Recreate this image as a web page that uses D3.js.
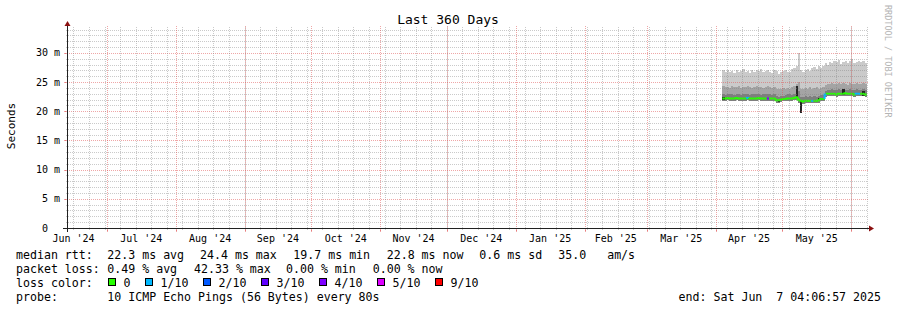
<!DOCTYPE html>
<html>
<head>
<meta charset="utf-8">
<script src="https://cdn.jsdelivr.net/npm/d3@7"></script>
<style>
  body { margin: 0; background: #fff; }
  svg text { font-family: "DejaVu Sans Mono", monospace; fill: #000; white-space: pre; }
</style>
</head>
<body>
<svg id="chart" width="897" height="310"></svg>
<script>
// time window of the graph (360 days)
const rangeStart = new Date(2024, 5, 13, 2);
const rangeEnd = new Date(2025, 5, 8, 2);

// daily samples, first one on Apr 4 2025 (values in ms)
const dataStart = new Date(2025, 3, 4);
const median = [
  22.2, 22.2, 22.3, 22.2, 22.2, 22.2, 22.3, 22.2, 22.2, 22.2,
  22.2, 22.3, 22.2, 22.2, 22.2, 22.2, 22.3, 22.2, 22.2, 22.2,
  22.2, 22.2, 22.2, 22.2, 21.9, 21.9, 22.0, 22.1, 22.1, 22.2,
  22.2, 22.2, 22.3, 22.4, 22.0, 21.8, 21.7, 21.8, 21.8, 21.8,
  21.8, 21.8, 21.8, 21.9, 22.1, 22.1, 22.9, 23.0, 23.0, 23.0,
  23.0, 22.9, 23.0, 23.0, 23.0, 23.1, 23.0, 23.0, 23.0, 22.9,
  23.0, 23.0, 23.0, 23.0, 22.9
];
const smokeTop = [
  27.1, 26.8, 27.0, 26.7, 26.9, 26.6, 27.0, 26.8, 26.9, 27.2,
  26.7, 26.9, 26.6, 27.0, 26.8, 27.1, 26.9, 27.3, 26.7, 26.9,
  27.0, 26.8, 26.6, 27.1, 26.9, 26.4, 26.7, 26.9, 27.0, 26.8,
  26.7, 27.2, 27.5, 27.8, 30.0, 27.0, 26.8, 27.1, 27.3, 26.9,
  27.4, 27.6, 27.2, 27.7, 27.5, 27.8, 28.3, 28.0, 28.5, 28.2,
  28.6, 28.4, 28.8, 28.1, 28.5, 28.7, 28.3, 28.6, 28.9, 28.2,
  28.5, 28.7, 28.4, 28.6, 28.3
];
const smokeMid = [
  24.3, 24.1, 24.2, 24.0, 24.3, 24.1, 24.2, 24.4, 24.0, 24.2,
  24.1, 24.3, 24.2, 24.0, 24.1, 24.3, 24.2, 24.1, 24.0, 24.2,
  24.3, 24.1, 24.0, 24.2, 23.9, 23.8, 23.9, 24.0, 23.9, 24.0,
  23.8, 24.1, 24.3, 24.6, 25.0, 23.8, 23.9, 24.0, 23.8, 24.1,
  23.9, 24.0, 24.1, 23.9, 24.0, 24.2, 24.5, 24.7, 24.6, 24.8,
  24.6, 24.7, 24.9, 24.6, 24.8, 24.7, 24.5, 24.8, 24.7, 24.6,
  24.9, 24.7, 24.6, 24.8, 24.7
];
const smokeInner = [
  22.9, 22.8, 23.0, 22.9, 22.9, 22.8, 23.0, 22.9, 22.8, 22.9,
  22.9, 23.0, 22.8, 22.9, 22.9, 23.0, 22.9, 22.8, 22.9, 22.9,
  23.0, 22.9, 22.8, 22.9, 22.6, 22.5, 22.6, 22.7, 22.8, 22.9,
  22.9, 22.8, 23.0, 23.2, 23.5, 22.5, 22.4, 22.6, 22.5, 22.6,
  22.5, 22.6, 22.5, 22.6, 22.8, 22.8, 23.5, 23.7, 23.6, 23.8,
  23.7, 23.6, 23.8, 23.7, 23.9, 23.7, 23.6, 23.8, 23.7, 23.6,
  23.8, 23.7, 23.6, 23.8, 23.7
];
const smokeBottom = [
  21.8, 21.8, 21.9, 21.8, 21.8, 21.8, 21.9, 21.8, 21.8, 21.8,
  21.8, 21.9, 21.8, 21.8, 21.8, 21.8, 21.9, 21.8, 21.8, 21.8,
  21.8, 21.8, 21.8, 21.8, 21.5, 21.4, 21.6, 21.7, 21.7, 21.8,
  21.8, 21.8, 21.9, 21.9, 21.5, 21.3, 21.3, 21.4, 21.4, 21.4,
  21.4, 21.4, 21.4, 21.5, 21.7, 21.7, 22.4, 22.6, 22.6, 22.6,
  22.6, 22.5, 22.6, 22.6, 22.6, 22.7, 22.6, 22.6, 22.6, 22.5,
  22.6, 22.6, 22.6, 22.6, 22.5
];

// darkest smoke, only visible on a few days
const darkDays = [0, 25, 33, 35, 43, 54, 63];
const darkLow = [22.0, 21.6, 22.3, 19.7, 21.9, 22.8, 22.6];
const darkHigh = [22.4, 22.0, 24.4, 22.0, 22.3, 23.9, 23.4];

// days with packet loss (pings lost out of 10)
const lossDays = [11, 20, 40, 46, 60, 61];
const lossLevel = [1, 4, 1, 1, 1, 1];

const lossLabels = ["0", "1/10", "2/10", "3/10", "4/10", "5/10", "9/10"];
const lossColors = ["#26ff00", "#00b8ff", "#0059ff", "#5e00ff", "#7e00ff", "#dd00ff", "#ff0000"];

const yTicks = [0, 5, 10, 15, 20, 25, 30];

const svg = d3.select("#chart");
const x = d3.scaleTime().domain([rangeStart, rangeEnd]).range([67, 867]);
const y = d3.scaleLinear().domain([0, 34.2857]).range([228, 28]);
const px = (v) => Math.round(v) + 0.5;

const days = median.map((_, i) => d3.timeDay.offset(dataStart, i));
const dayEnd = (i) => d3.timeDay.offset(dataStart, i + 1);

// smoke bands
const bands = [
  { top: smokeTop, color: "#cacaca" },
  { top: smokeMid, color: "#a4a4a4" },
  { top: smokeInner, color: "#7e7e7e" },
];
const data = svg.append("g");
bands.forEach((b) => {
  data.append("g")
    .selectAll("rect")
    .data(days)
    .enter()
    .append("rect")
    .attr("shape-rendering", "crispEdges")
    .attr("x", (d) => x(d))
    .attr("width", (d, i) => x(dayEnd(i)) - x(d))
    .attr("y", (d, i) => y(b.top[i]))
    .attr("height", (d, i) => y(smokeBottom[i]) - y(b.top[i]))
    .attr("fill", b.color);
});

data.append("g")
  .selectAll("rect")
  .data(darkDays)
  .enter()
  .append("rect")
  .attr("shape-rendering", "crispEdges")
  .attr("x", (d) => x(days[d]))
  .attr("width", (d) => x(dayEnd(d)) - x(days[d]))
  .attr("y", (d, k) => y(darkHigh[k]))
  .attr("height", (d, k) => y(darkLow[k]) - y(darkHigh[k]))
  .attr("fill", "#262626");

// median line coloured by loss
const lossOf = (i) => {
  const k = lossDays.indexOf(i);
  return k < 0 ? 0 : lossLevel[k];
};
const colorOf = (l) => (l >= 6 ? lossColors[6] : lossColors[Math.min(l, 5)]);
data.append("g")
  .selectAll("path")
  .data(days)
  .enter()
  .append("path")
  .attr("fill", "none")
  .attr("stroke-width", 2)
  .attr("stroke", (d, i) => colorOf(lossOf(i)))
  .attr("d", (d, i) => {
    const y0 = i > 0 ? y(median[i - 1]) : y(median[i]);
    return `M${x(d)},${y0}V${y(median[i])}H${x(dayEnd(i))}`;
  });

// grid, drawn over the data
const grid = svg.append("g").attr("shape-rendering", "crispEdges");
const minorCol = "rgba(128,128,128,0.42)";
const majorCol = "rgba(224,79,79,0.5)";

const hMinor = d3.range(1, 35).filter((v) => v % 5 !== 0);
grid.selectAll(".hmin")
  .data(hMinor)
  .enter()
  .append("line")
  .attr("x1", 66).attr("x2", 868)
  .attr("y1", (d) => px(y(d))).attr("y2", (d) => px(y(d)))
  .attr("stroke", minorCol)
  .attr("stroke-dasharray", "1,1");
grid.selectAll(".hmaj")
  .data(yTicks.filter((v) => v > 0))
  .enter()
  .append("line")
  .attr("x1", 65).attr("x2", 869)
  .attr("y1", (d) => px(y(d))).attr("y2", (d) => px(y(d)))
  .attr("stroke", majorCol)
  .attr("stroke-dasharray", "1,1");
grid.selectAll(".hmajtick")
  .data(yTicks)
  .enter()
  .append("line")
  .attr("x1", 64).attr("x2", 67)
  .attr("y1", (d) => px(y(d))).attr("y2", (d) => px(y(d)))
  .attr("stroke", majorCol);

const weeks = d3.timeSunday.range(rangeStart, rangeEnd);
const months = d3.timeMonth.range(rangeStart, rangeEnd);
grid.selectAll(".vmin")
  .data(weeks)
  .enter()
  .append("line")
  .attr("x1", (d) => px(x(d))).attr("x2", (d) => px(x(d)))
  .attr("y1", 230).attr("y2", 27)
  .attr("stroke", minorCol)
  .attr("stroke-dasharray", "1,1");
grid.selectAll(".vmaj")
  .data(months)
  .enter()
  .append("line")
  .attr("x1", (d) => px(x(d))).attr("x2", (d) => px(x(d)))
  .attr("y1", 231).attr("y2", 26)
  .attr("stroke", majorCol)
  .attr("stroke-dasharray", "1,1");
grid.selectAll(".vmajtick")
  .data(months)
  .enter()
  .append("line")
  .attr("x1", (d) => px(x(d))).attr("x2", (d) => px(x(d)))
  .attr("y1", 228).attr("y2", 232)
  .attr("stroke", majorCol);

// axes and arrows
const axis = svg.append("g").attr("shape-rendering", "crispEdges");
axis.append("line").attr("x1", 63).attr("x2", 871).attr("y1", 228.5).attr("y2", 228.5).attr("stroke", "#212121");
axis.append("line").attr("x1", 67.5).attr("x2", 67.5).attr("y1", 232).attr("y2", 24).attr("stroke", "#212121");
svg.append("path").attr("d", "M869,225.5L869,231.5L874,228.5Z").attr("fill", "#8b1010");
svg.append("path").attr("d", "M64.5,26L70.5,26L67.5,21Z").attr("fill", "#8b1010");

// y tick labels
svg.append("g")
  .selectAll("text")
  .data(yTicks)
  .enter()
  .append("text")
  .attr("x", 60)
  .attr("y", (d) => y(d) + 3.5)
  .attr("text-anchor", "end")
  .attr("font-size", "10px")
  .text((d) => (d === 0 ? "0  " : `${d} m`));

// x labels centred on the middle of each month
const labelMonths = d3.timeMonth.range(d3.timeMonth.floor(rangeStart), rangeEnd)
  .filter((m) => {
    const mid = new Date((+m + +d3.timeMonth.offset(m, 1)) / 2);
    return mid > rangeStart && mid < rangeEnd;
  });
const fmt = d3.timeFormat("%b '%y");
svg.append("g")
  .selectAll("text")
  .data(labelMonths)
  .enter()
  .append("text")
  .attr("x", (m) => x(new Date((+m + +d3.timeMonth.offset(m, 1)) / 2)))
  .attr("y", 241.5)
  .attr("text-anchor", "middle")
  .attr("font-size", "10px")
  .text((m) => fmt(m));

// title and axis label
svg.append("text").attr("x", 448).attr("y", 24).attr("text-anchor", "middle")
  .attr("font-size", "13px").text("Last 360 Days");
svg.append("text").attr("transform", "translate(15,126) rotate(-90)").attr("text-anchor", "middle")
  .attr("font-size", "11px").text("Seconds");
svg.append("text").attr("transform", "translate(885,5) rotate(90)")
  .attr("font-size", "8.5px").style("fill", "#b4b4b4").text("RRDTOOL / TOBI OETIKER");

// legend
const legend = svg.append("g").attr("font-size", "11.6px");
const legendItems = [
  [16, 258.5, "median rtt:"], [107.3, 258.5, "22.3 ms avg"], [200, 258.5, "24.4 ms max"],
  [293.3, 258.5, "19.7 ms min"], [386.7, 258.5, "22.8 ms now"], [479.3, 258.5, "0.6 ms sd"],
  [558.3, 258.5, "35.0   am/s"],
  [16, 272.5, "packet loss:"], [107.3, 272.5, "0.49 % avg"], [194, 272.5, "42.33 % max"],
  [286, 272.5, "0.00 % min"], [372.7, 272.5, "0.00 % now"],
  [16, 286.5, "loss color:"],
  [16, 300.5, "probe:"], [107.3, 300.5, "10 ICMP Echo Pings (56 Bytes) every 80s"],
];
legend.selectAll("text.item")
  .data(legendItems)
  .enter()
  .append("text")
  .attr("x", (d) => d[0])
  .attr("y", (d) => d[1])
  .text((d) => d[2]);
legend.append("text").attr("x", 881).attr("y", 300.5).attr("text-anchor", "end")
  .text("end: Sat Jun  7 04:06:57 2025");

const swatchX = [108.5, 145.5, 203.5, 261.5, 319.5, 377.5, 435.5];
lossLabels.forEach((lab, i) => {
  legend.append("rect")
    .attr("x", swatchX[i]).attr("y", 278.5).attr("width", 7).attr("height", 7)
    .attr("fill", lossColors[i]).attr("stroke", "#000").attr("stroke-width", 1);
  legend.append("text").attr("x", swatchX[i] + 15).attr("y", 286.5).text(lab);
});
</script>
</body>
</html>
